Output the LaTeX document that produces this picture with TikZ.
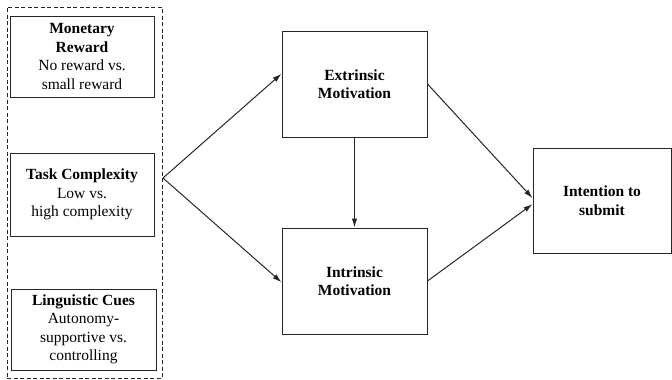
\documentclass[tikz,border=0pt]{standalone}
\usepackage{fontspec}
\setmainfont{Liberation Serif}
\usetikzlibrary{arrows.meta}
\begin{document}
\begin{tikzpicture}[x=1pt,y=-1pt,
  box/.style={draw=black!85, line width=1pt, inner sep=0pt, align=center,
    font=\fontsize{15.5}{18.5}\selectfont},
  mid/.style={box, font=\fontsize{15.5}{18.5}\selectfont\bfseries},
  conn/.style={draw=black!85, line width=1pt, -{Latex[length=9pt,width=5.5pt]}},
  grp/.style={draw=black!85, line width=0.8pt, dash pattern=on 4pt off 2.5pt}]
\useasboundingbox (0,0) rectangle (672,380);
\node[grp, minimum width=155pt, minimum height=371pt] (group) at (84.5,192.5) {};
\node[box, minimum width=144pt, minimum height=81pt] (money) at (82,56.5)
  {\textbf{Monetary}\\\textbf{Reward}\\No reward vs.\\small reward};
\node[box, minimum width=144pt, minimum height=83pt] (task) at (82,194.5)
  {\textbf{Task Complexity}\\Low vs.\\high complexity};
\node[box, minimum width=145pt, minimum height=81pt] (ling) at (83.5,329.5)
  {\textbf{Linguistic Cues}\\Autonomy-\\supportive vs.\\controlling};
\node[mid, minimum width=145pt, minimum height=106pt] (ext) at (354.5,84)
  {Extrinsic\\Motivation};
\node[mid, minimum width=145pt, minimum height=106pt] (intr) at (354.5,281)
  {Intrinsic\\Motivation};
\node[mid, minimum width=138pt, minimum height=105pt] (intn) at (602,200.5)
  {Intention to\\submit};
\coordinate (fork) at (163,178);
\draw[conn] (fork) -- (ext.172);
\draw[conn] (fork) -- (intr.181);
\draw[conn] (ext.south) -- (intr.north);
\draw[conn] (ext.east) -- (intn.178);
\draw[conn] (intr.east) -- (intn.183);
\end{tikzpicture}
\end{document}
